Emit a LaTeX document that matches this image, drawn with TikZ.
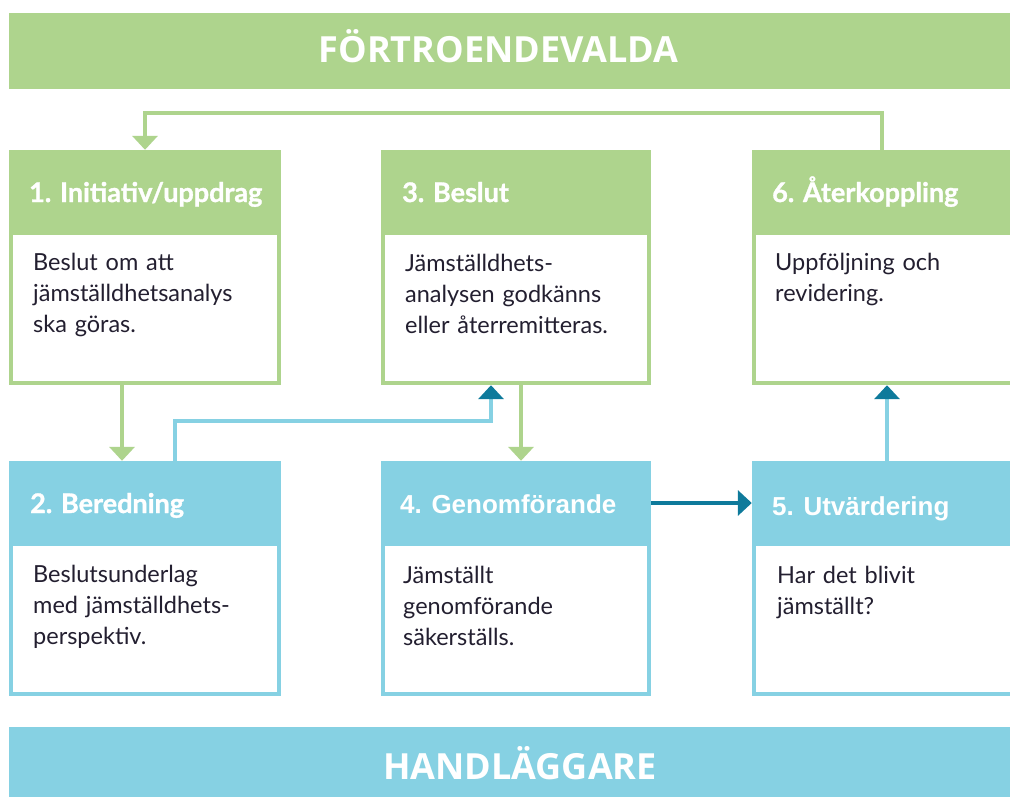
\documentclass[tikz,border=0pt]{standalone}
\usepackage{fontspec}
\setmainfont{Lato}
\newfontfamily\titlefont{Open Sans}
\newfontfamily\hdrfont[FakeBold=1.2]{Lato Bold}
\newfontfamily\arialfont{Liberation Sans}
\usetikzlibrary{arrows.meta}
\definecolor{grn}{RGB}{174,212,141}
\definecolor{lblue}{RGB}{134,209,227}
\definecolor{dblue}{RGB}{14,122,155}
\definecolor{ink}{RGB}{35,31,48}
\begin{document}
\begin{tikzpicture}[x=1pt,y=-1pt,
  banner/.style={fill=#1, inner sep=0pt, minimum width=1010pt},
  bannertxt/.style={text=white, inner sep=0pt, anchor=base, font=\titlefont\bfseries\fontsize{36}{40}\selectfont},
  outerbox/.style={fill=#1, inner sep=0pt, minimum height=235pt},
  bodybox/.style={fill=white, inner sep=0pt, minimum height=146pt},
  hdr/.style={text=white, inner sep=0pt, anchor=base west, font=\hdrfont\fontsize{27}{30}\selectfont},
  hdrb/.style={text=white, inner sep=0pt, anchor=base west, font=\arialfont\fontsize{26}{30}\selectfont\bfseries},
  bodytxt/.style={text=ink, inner sep=0pt, anchor=base west, align=left, text width=250pt, font=\fontsize{23.5}{31}\selectfont},
  conn/.style={line width=4pt, draw=#1},
  gtip/.style={-{Triangle[width=25pt,length=14pt,color=grn]}},
  btip/.style={-{Triangle[width=25pt,length=14pt,color=dblue]}}
]
\useasboundingbox (0,0) rectangle (1010,796);
\clip (0,0) rectangle (1010,796);
\fill[white] (0,0) rectangle (1010,796);

% banners
\node[banner=grn, minimum height=76pt] (top) at (514,51) {};
\node[bannertxt] (toptxt) at (498.5,62) {FÖRTROENDEVALDA};
\node[banner=lblue, minimum height=73pt] (bot) at (514,763.5) {};
\node[bannertxt] (bottxt) at (520,779) {HANDLÄGGARE};

% boxes
\node[outerbox=grn, minimum width=272pt] (b1) at (145,267.5) {};
\node[bodybox, minimum width=264pt] (w1) at (145,308) {};
\node[outerbox=grn, minimum width=270pt] (b3) at (516,267.5) {};
\node[bodybox, minimum width=262pt] (w3) at (516,308) {};
\node[outerbox=grn, minimum width=272pt] (b6) at (888,267.5) {};
\node[bodybox, minimum width=264pt] (w6) at (888,308) {};
\node[outerbox=lblue, minimum width=272pt] (b2) at (145,578.5) {};
\node[bodybox, minimum width=264pt] (w2) at (145,619) {};
\node[outerbox=lblue, minimum width=270pt] (b4) at (516,578.5) {};
\node[bodybox, minimum width=262pt] (w4) at (516,619) {};
\node[outerbox=lblue, minimum width=272pt] (b5) at (888,578.5) {};
\node[bodybox, minimum width=264pt] (w5) at (888,619) {};

% headers
\node[hdr] (h1) at (29,202) {1. Initiativ/uppdrag};
\node[hdr] (h3) at (402,202) {3. Beslut};
\node[hdr] (h6) at (772,202) {6. Återkoppling};
\node[hdr] (h2) at (30,513) {2. Beredning};
\node[hdrb] (h4) at (400,513) {4. Genomförande};
\node[hdrb] (h5) at (772,515) {5. Utvärdering};

% body texts
\node[bodytxt] (t1) at (33,270) {Beslut om att\\jämställdhetsanalys\\ska göras.};
\node[bodytxt] (t3) at (405,271) {Jämställdhets-\\analysen godkänns\\eller återremitteras.};
\node[bodytxt] (t6) at (775,270) {Uppföljning och\\revidering.};
\node[bodytxt] (t2) at (33,582) {Beslutsunderlag\\med jämställdhets-\\perspektiv.};
\node[bodytxt] (t4) at (403,583) {Jämställt\\genomförande\\säkerställs.};
\node[bodytxt] (t5) at (777,583) {Har det blivit\\jämställt?};

% connectors
\draw[conn=grn, gtip] ([xshift=-6pt]b6.north) |- ([yshift=37pt]b1.north) -- (b1.north);
\draw[conn=grn, gtip] ([xshift=-23pt]b1.south) -- ([xshift=-23pt]b2.north);
\draw[conn=lblue, btip] ([xshift=30pt]b2.north) |- ([xshift=-25pt,yshift=-36pt]b3.south) -- ([xshift=-25pt]b3.south);
\draw[conn=grn, gtip] ([xshift=5pt]b3.south) -- ([xshift=5pt]b4.north);
\draw[conn=dblue, btip] ([yshift=75.5pt]b4.east) -- ([yshift=75.5pt]b5.west);
\draw[conn=lblue, btip] ([xshift=-1pt]b5.north) -- ([xshift=-1pt]b6.south);
\end{tikzpicture}
\end{document}
